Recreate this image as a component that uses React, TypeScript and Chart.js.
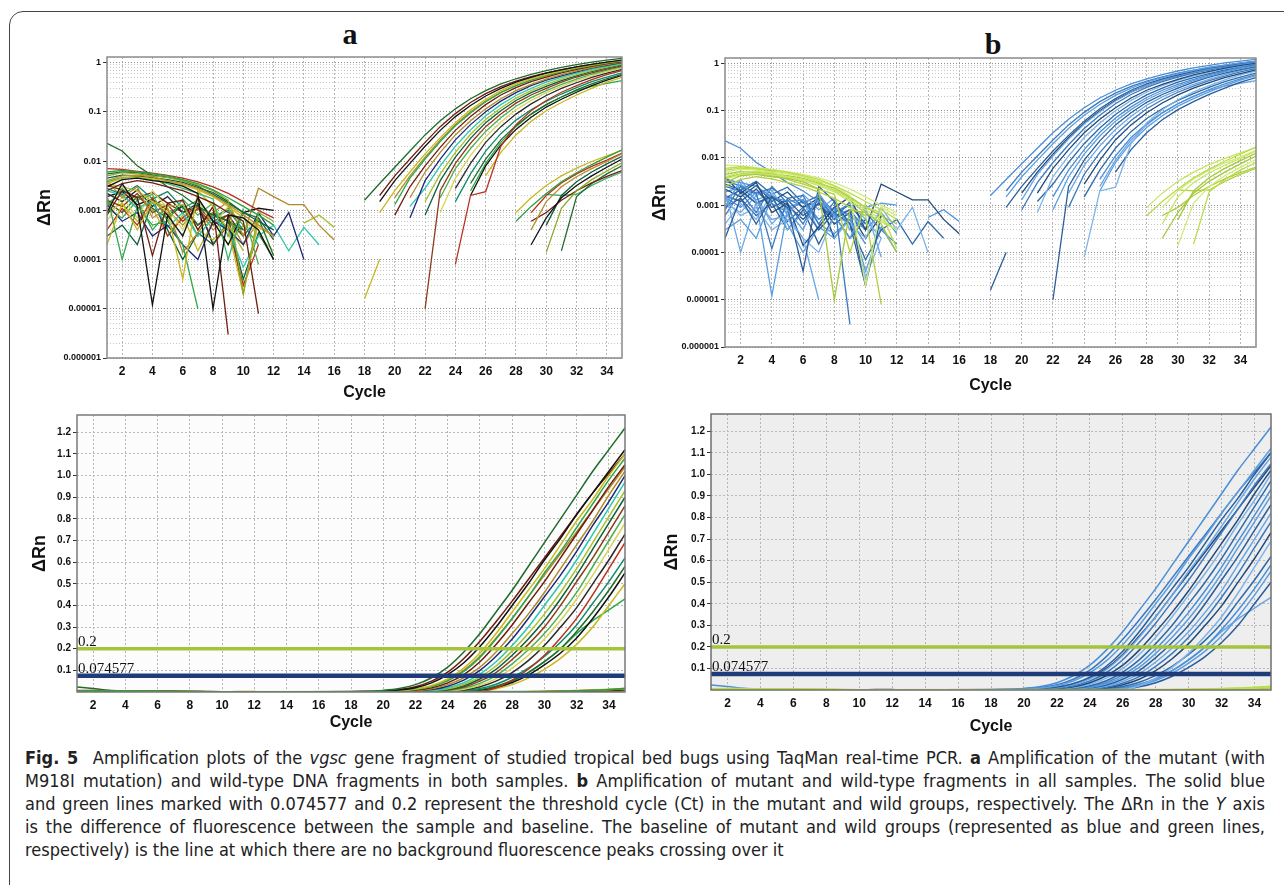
import React, { useEffect, useRef } from 'react';
import { Chart, registerables } from 'chart.js';

Chart.register(...registerables);

const _ = null;

// ---------- axes ----------
const CYCLES = [1, 2, 3, 4, 5, 6, 7, 8, 9, 10, 11, 12, 13, 14, 15, 16, 17, 18, 19, 20, 21, 22, 23, 24, 25, 26, 27, 28, 29, 30, 31, 32, 33, 34, 35];
const X_TICKS = [2, 4, 6, 8, 10, 12, 14, 16, 18, 20, 22, 24, 26, 28, 30, 32, 34];
const LOG_DECADES = [0.000001, 0.00001, 0.0001, 0.001, 0.01, 0.1, 1];
const LOG_TICK_LABELS = ['0.000001', '0.00001', '0.0001', '0.001', '0.01', '0.1', '1'];
const LOG_MINOR_STEPS = [1, 2, 3, 4, 5, 6, 7, 8, 9];
const LIN_TICKS = [0.1, 0.2, 0.3, 0.4, 0.5, 0.6, 0.7, 0.8, 0.9, 1.0, 1.1, 1.2];
const THRESHOLD_WILD = 0.2;
const THRESHOLD_MUTANT = 0.074577;

// ---------- mutant samples (ΔRn per cycle 1..35) ----------
const M01 = [0.023, 0.016, 0.008, 0.005, 0.003, 0.002, 0.0012, 0.0008, 0.0006, 0.0004, _, _, _, _, _, _, _, 0.0016, 0.0035, 0.0075, 0.016, 0.034, 0.066, 0.115, 0.185, 0.27, 0.37, 0.47, 0.58, 0.69, 0.80, 0.91, 1.02, 1.12, 1.22];
const M02 = [0.0009, 0.0035, 0.0012, 0.000012, 0.0008, 0.0003, 0.0018, 0.0006, 0.0002, 0.0009, 0.0011, 0.001, _, _, _, _, _, _, 0.0015, 0.004, 0.009, 0.02, 0.042, 0.08, 0.135, 0.21, 0.30, 0.40, 0.50, 0.61, 0.71, 0.82, 0.92, 1.02, 1.12];
const M03 = [0.0002, 0.0014, 0.0004, 0.0015, 0.0009, 0.00004, 0.0025, 0.0012, 0.0004, 0.00002, 0.0006, _, _, _, _, _, _, _, 0.0009, 0.0025, 0.006, 0.014, 0.03, 0.06, 0.11, 0.18, 0.27, 0.37, 0.47, 0.57, 0.68, 0.79, 0.89, 1.0, 1.10];
const M04 = [0.002, 0.0001, 0.0012, 0.0005, 0.0006, 0.0002, 0.00001, _, _, _, _, _, _, _, _, _, _, _, _, 0.0013, 0.0045, 0.011, 0.025, 0.052, 0.095, 0.16, 0.245, 0.34, 0.44, 0.55, 0.65, 0.76, 0.87, 0.98, 1.08];
const M05 = [0.0008, 0.0025, 0.0018, 0.00012, 0.0014, 0.0016, 0.0004, 0.0012, 0.000003, _, _, _, _, _, _, _, _, _, _, 0.0008, 0.003, 0.008, 0.019, 0.042, 0.08, 0.14, 0.22, 0.31, 0.41, 0.51, 0.62, 0.73, 0.84, 0.95, 1.05];
const M06 = [0.004, 0.0018, 0.003, 0.0007, 0.0011, 0.00014, 0.00035, 0.0009, 0.0015, 0.0003, 0.0028, 0.0019, 0.0013, 0.0013, 0.0005, 0.00025, _, _, _, _, 0.0018, 0.006, 0.015, 0.034, 0.066, 0.115, 0.185, 0.27, 0.36, 0.46, 0.57, 0.68, 0.79, 0.91, 1.02];
const M07 = [0.0013, 0.0006, 0.0009, 0.0003, 0.0005, 0.0002, 0.0001, 0.0006, 0.0004, 0.0002, 0.0009, 0.0003, 0.0009, 0.0001, _, _, _, _, _, _, 0.0007, 0.004, 0.011, 0.027, 0.055, 0.1, 0.165, 0.245, 0.34, 0.44, 0.54, 0.65, 0.77, 0.88, 1.0];
const M08 = [0.0025, 0.002, 0.0011, 0.0015, 0.00045, 0.0009, 0.0003, 0.0007, 0.0004, 0.00007, 0.0003, 0.0005, 0.00015, 0.00045, 0.0002, _, _, _, _, _, 0.0012, 0.0028, 0.008, 0.02, 0.043, 0.083, 0.14, 0.215, 0.30, 0.40, 0.50, 0.61, 0.73, 0.85, 0.97];
const M09 = [0.0035, 0.003, 0.0025, 0.0015, 0.0012, 0.0013, 0.0004, 0.00025, 0.0005, 0.00015, _, _, _, 0.00055, 0.0008, 0.00045, _, _, _, _, _, 0.0015, 0.0055, 0.015, 0.035, 0.07, 0.12, 0.19, 0.27, 0.36, 0.46, 0.57, 0.69, 0.81, 0.93];
const M10 = [0.0003, 0.0005, 0.0002, 0.0015, 0.0004, 0.0001, 0.00035, 0.0002, 0.0006, 0.00004, 0.00035, 0.0001, _, _, _, _, _, _, _, _, _, 0.0008, 0.004, 0.012, 0.029, 0.06, 0.105, 0.17, 0.245, 0.33, 0.43, 0.54, 0.66, 0.78, 0.90];
const M11 = [0.0016, 0.0012, 0.0022, 0.0009, 0.0013, 0.0006, 0.0011, 0.0005, 0.0008, 0.00002, _, _, _, _, _, _, _, _, _, _, _, 0.00001, 0.0025, 0.009, 0.023, 0.05, 0.09, 0.15, 0.22, 0.30, 0.40, 0.51, 0.62, 0.74, 0.86];
const M12 = [0.0012, 0.0028, 0.0016, 0.0021, 0.0006, 0.0017, 0.0008, 0.0014, 0.0003, 0.0009, 0.00008, _, _, _, _, _, _, _, _, _, _, _, 0.0018, 0.007, 0.018, 0.04, 0.076, 0.13, 0.195, 0.27, 0.36, 0.46, 0.58, 0.70, 0.82];
const M13 = [0.0006, 0.0019, 0.0007, 0.0025, 0.0011, 0.0004, 0.0016, 0.0005, 0.0012, 0.0007, 0.0003, 0.00015, _, _, _, _, _, _, _, _, _, _, 0.0009, 0.0045, 0.013, 0.031, 0.062, 0.11, 0.17, 0.245, 0.33, 0.43, 0.54, 0.66, 0.78];
const M14 = [0.0022, 0.0015, 0.0026, 0.0012, 0.0019, 0.0009, 0.0014, 0.0002, _, _, _, _, _, _, _, _, _, _, _, _, _, _, _, 0.0028, 0.009, 0.024, 0.05, 0.09, 0.145, 0.215, 0.30, 0.39, 0.50, 0.61, 0.73];
const M15 = [0.0004, 0.0011, 0.0005, 0.0018, 0.0003, 0.0007, 0.0013, 0.0002, 0.0005, 0.00003, 0.0002, _, _, _, _, _, _, _, _, _, _, _, _, 0.00008, 0.002, 0.0024, 0.02, 0.055, 0.105, 0.17, 0.25, 0.34, 0.45, 0.57, 0.69];
const M16 = [0.0028, 0.0021, 0.0032, 0.0017, 0.0024, 0.0011, 0.0016, 0.0007, 0.0010, 0.0004, _, _, _, _, _, _, _, _, _, _, _, _, _, 0.0015, 0.0055, 0.016, 0.036, 0.068, 0.11, 0.165, 0.23, 0.31, 0.41, 0.51, 0.62];
const M17 = [0.0015, 0.0009, 0.0019, 0.0011, 0.0007, 0.0013, 0.0005, 0.0009, 0.0006, 0.0003, 0.0007, 0.00025, _, _, _, _, _, _, _, _, _, _, _, _, 0.0035, 0.011, 0.027, 0.053, 0.09, 0.14, 0.20, 0.28, 0.37, 0.47, 0.58];
const M18 = [0.0019, 0.0024, 0.0013, 0.0017, 0.0008, 0.0012, 0.0005, 0.0009, 0.0004, _, _, _, _, _, _, _, _, _, _, _, _, _, _, _, 0.002, 0.008, 0.021, 0.044, 0.078, 0.125, 0.18, 0.25, 0.34, 0.44, 0.55];
const M19 = [0.0009, 0.0014, 0.0006, 0.0011, 0.0003, 0.0008, 0.00015, 0.0006, 0.0002, 0.0005, _, _, _, _, _, _, _, 0.000016, 0.0001, _, _, _, _, _, _, 0.005, 0.015, 0.034, 0.064, 0.105, 0.155, 0.22, 0.30, 0.40, 0.50];
const M20 = [0.0011, 0.0007, 0.0016, 0.0004, 0.0009, 0.0012, 0.0003, 0.0007, 0.0011, 0.0005, 0.0002, _, _, _, _, _, _, _, _, _, _, _, _, _, 0.0025, 0.009, 0.024, 0.05, 0.09, 0.14, 0.20, 0.27, 0.33, 0.38, 0.43];
const M21 = [0.0032, 0.0026, 0.0018, 0.0023, 0.0014, 0.0009, 0.0012, 0.0006, 0.0008, 0.0003, _, _, _, _, _, _, _, _, 0.002, 0.005, 0.011, 0.024, 0.05, 0.092, 0.155, 0.235, 0.325, 0.42, 0.52, 0.62, 0.72, 0.82, 0.92, 1.01, 1.10];
const M22 = [0.0014, 0.0021, 0.0011, 0.0016, 0.0010, 0.0005, 0.0011, 0.0004, 0.0007, 0.0002, 0.0006, _, _, _, _, _, _, 0.0006, _, 0.0018, 0.005, 0.012, 0.027, 0.055, 0.1, 0.165, 0.25, 0.34, 0.44, 0.54, 0.64, 0.74, 0.84, 0.94, 1.04];

// ---------- wild-type samples ----------
const W01 = [0.006, 0.0065, 0.006, 0.0055, 0.005, 0.0042, 0.0035, 0.0026, 0.0018, 0.0012, 0.0008, 0.0005, _, _, _, _, _, _, _, _, _, _, _, _, _, _, _, 0.0006, 0.0012, 0.0022, 0.0038, 0.0058, 0.0085, 0.012, 0.017];
const W02 = [0.004, 0.005, 0.0052, 0.0048, 0.004, 0.0035, 0.0028, 0.002, 0.0013, 0.0008, 0.0005, 0.0003, _, _, _, _, _, _, _, _, _, _, _, _, _, _, _, _, 0.0004, 0.0015, 0.003, 0.0048, 0.007, 0.0098, 0.014];
const W03 = [0.003, 0.0042, 0.0045, 0.004, 0.0037, 0.0031, 0.0022, 0.00001, 0.0008, 0.0007, 0.0004, 0.0001, _, _, _, _, _, _, _, _, _, _, _, _, _, _, _, _, 0.0002, 0.0007, 0.0018, 0.0032, 0.005, 0.0075, 0.011];
const W04 = [0.005, 0.0058, 0.0055, 0.005, 0.0046, 0.004, 0.0033, 0.0025, 0.0016, 0.00002, 0.0009, 0.0006, _, _, _, _, _, _, _, _, _, _, _, _, _, _, _, _, _, 0.00014, 0.0011, 0.0025, 0.0042, 0.0063, 0.0092];
const W05 = [0.0025, 0.0035, 0.004, 0.0036, 0.003, 0.0025, 0.0019, 0.0014, 0.0009, 0.0006, 0.000008, _, _, _, _, _, _, _, _, _, _, _, _, _, _, _, _, _, 0.0006, 0.0009, 0.0016, 0.0025, 0.0036, 0.0049, 0.0064];
const W06 = [0.0055, 0.006, 0.0058, 0.0052, 0.0047, 0.004, 0.0031, 0.0021, 0.0014, 0.0009, 0.0007, 0.00012, _, _, _, _, _, _, _, _, _, _, _, _, _, _, _, _, _, _, 0.00015, 0.0019, 0.0035, 0.0055, 0.008];
const W07 = [0.0035, 0.0045, 0.0047, 0.0044, 0.0039, 0.0033, 0.0026, 0.0019, 0.0012, 0.0007, 0.00045, 0.0003, _, _, _, _, _, _, _, _, _, _, _, _, _, _, _, 0.0009, 0.0018, 0.0032, 0.005, 0.0072, 0.0098, 0.0128, 0.0165];
const W08 = [0.0045, 0.0052, 0.005, 0.0046, 0.0042, 0.0037, 0.0029, 0.0023, 0.0015, 0.0009, 0.0006, 0.0004, _, _, _, _, _, _, _, _, _, _, _, _, _, _, _, _, _, 0.0005, 0.002, 0.0038, 0.006, 0.0088, 0.0125];
const W09 = [0.007, 0.0068, 0.0062, 0.0057, 0.0051, 0.0045, 0.0038, 0.003, 0.0022, 0.0015, 0.001, 0.0007, _, _, _, _, _, _, _, _, _, _, _, _, _, _, _, _, 0.0009, 0.002, 0.0036, 0.0055, 0.0078, 0.0105, 0.0145];
const W10 = [0.0038, 0.0046, 0.0048, 0.0042, 0.0035, 0.0028, 0.0022, 0.0017, 0.0001, 0.0011, _, _, _, _, _, _, _, _, _, _, _, _, _, _, _, _, _, _, _, 0.0021, 0.002, 0.0021, 0.0032, 0.0045, 0.006];

const MUTANT_SAMPLES = [M01, M02, M03, M04, M05, M06, M07, M08, M09, M10, M11, M12, M13, M14, M15, M16, M17, M18, M19, M20, M21, M22];
const WILD_SAMPLES = [W01, W02, W03, W04, W05, W06, W07, W08, W09, W10];

// ---------- colours ----------
const PALETTE_A = ['#1f6b2a', '#111111', '#c9b81e', '#2fa84a', '#6e1c10', '#b08a2a', '#1c2a78', '#2fc6ae', '#a8c030', '#0f5e3a', '#8c3a1a', '#4caf50', '#d6d35a', '#2a2a2a', '#b8321f', '#0e8a6a'];
const PALETTE_A_WILD = ['#2e9e3e', '#b8902c', '#111111', '#8aa82a', '#6e1c10', '#1f6b2a', '#c9b81e', '#0f5e3a', '#b8321f', '#3bb36a'];
const MUTANT_BLUES = ['#4a8fd8', '#5b9ee0', '#2b5d9a', '#6aa7e3', '#3a78bf', '#1f4a7a', '#7db3ea', '#2d6aa8'];
const WILD_GREENS = ['#b9dc4a', '#c8e463', '#a5c93a', '#d2ea78', '#b0d040'];

const FONT = '"Liberation Sans", Arial, sans-serif';

type Series = (number | null)[];

interface PanelCfg {
  x: number; y: number; w: number; h: number;
  plotL: number; plotT: number; plotR: number; plotB: number;
  log: boolean;
  mutantColors: string[];
  wildColors: string[];
  bg: string;
  frameColor: string;
  yTitlePad: number;
  xTitlePad: number;
}

const framePlugin = {
  id: 'frame',
  beforeDraw(chart: any, _args: any, opts: any) {
    const { ctx, chartArea: a } = chart;
    ctx.save();
    ctx.fillStyle = opts.bg || '#ffffff';
    ctx.fillRect(a.left, a.top, a.right - a.left, a.bottom - a.top);
    ctx.restore();
  },
  afterDatasetsDraw(chart: any, _args: any, opts: any) {
    const { ctx, chartArea: a } = chart;
    if (opts.labels) {
      ctx.save();
      ctx.font = '15px "Liberation Serif", "Times New Roman", serif';
      ctx.fillStyle = '#111';
      ctx.textBaseline = 'alphabetic';
      ctx.textAlign = 'left';
      for (const l of opts.labels) {
        const y = chart.scales.y.getPixelForValue(l.value);
        ctx.fillText(l.text, a.left + 1, y - 3);
      }
      ctx.restore();
    }
    ctx.save();
    ctx.strokeStyle = opts.frameColor || '#888';
    ctx.lineWidth = 1.5;
    ctx.strokeRect(a.left, a.top, a.right - a.left, a.bottom - a.top);
    ctx.restore();
  },
};

function curveDatasets(samples: Series[], colors: string[], linear: boolean) {
  return samples.map((s, i) => ({
    data: s,
    borderColor: colors[i % colors.length],
    borderWidth: linear ? 1.5 : 1.3,
    pointRadius: 0,
    spanGaps: linear,
    tension: 0,
    cubicInterpolationMode: linear ? 'monotone' : 'default',
  }));
}

function buildConfig(cfg: PanelCfg): any {
  const yAxisW = cfg.plotL - cfg.x;
  const xAxisH = cfg.y + cfg.h - cfg.plotB;
  const padTop = cfg.plotT - cfg.y;
  const padRight = cfg.x + cfg.w - cfg.plotR;
  const linear = !cfg.log;
  const first = CYCLES[0];
  const last = CYCLES[CYCLES.length - 1];

  const thresholds = linear
    ? [
        { data: [{ x: first, y: THRESHOLD_WILD }, { x: last, y: THRESHOLD_WILD }], borderColor: '#a3c43c', borderWidth: 3.5, pointRadius: 0 },
        { data: [{ x: first, y: THRESHOLD_MUTANT }, { x: last, y: THRESHOLD_MUTANT }], borderColor: '#1e3b7a', borderWidth: 4.5, pointRadius: 0 },
      ]
    : [];

  const datasets = [
    ...thresholds,
    ...curveDatasets(WILD_SAMPLES, cfg.wildColors, linear),
    ...curveDatasets(MUTANT_SAMPLES, cfg.mutantColors, linear),
  ];

  const logGrid = LOG_DECADES.slice(0, -1)
    .flatMap((d) => LOG_MINOR_STEPS.map((m) => d * m))
    .concat([LOG_DECADES[LOG_DECADES.length - 1]]);
  const isDecade = (v: number) => LOG_DECADES.includes(v);

  const yScale = cfg.log
    ? {
        type: 'logarithmic',
        min: LOG_DECADES[0],
        max: 1.3,
        afterBuildTicks: (s: any) => { s.ticks = logGrid.map((v) => ({ value: v })); },
        afterFit: (s: any) => { s.width = yAxisW; },
        ticks: {
          autoSkip: false,
          padding: 2,
          color: '#111',
          font: { family: FONT, size: 9, weight: 'bold' },
          callback: (v: number) => {
            const i = LOG_DECADES.indexOf(v);
            return i >= 0 ? LOG_TICK_LABELS[i] : '';
          },
        },
        grid: {
          color: (c: any) => (c.tick && isDecade(c.tick.value) ? '#8f8f8f' : '#c8c8c8'),
          tickLength: 4,
          tickColor: (c: any) => (c.tick && isDecade(c.tick.value) ? '#333' : 'rgba(0,0,0,0)'),
        },
        border: { display: false, dash: [1, 2] },
        title: { display: true, text: 'ΔRn', color: '#111', font: { family: FONT, size: 18, weight: 'bold' }, padding: { top: cfg.yTitlePad, bottom: 0 } },
      }
    : {
        type: 'linear',
        min: 0,
        max: 1.28,
        afterBuildTicks: (s: any) => { s.ticks = LIN_TICKS.map((v) => ({ value: v })); },
        afterFit: (s: any) => { s.width = yAxisW; },
        ticks: {
          autoSkip: false,
          padding: 2,
          color: '#111',
          font: { family: FONT, size: 10, weight: 'bold' },
          callback: (v: number) => Number(v).toFixed(1),
        },
        grid: { color: '#b9b9b9', tickLength: 4, tickColor: '#333' },
        border: { display: false, dash: [2, 2] },
        title: { display: true, text: 'ΔRn', color: '#111', font: { family: FONT, size: 18, weight: 'bold' }, padding: { top: cfg.yTitlePad, bottom: 0 } },
      };

  return {
    type: 'line',
    data: { labels: CYCLES, datasets },
    plugins: [framePlugin],
    options: {
      animation: false,
      responsive: false,
      maintainAspectRatio: false,
      events: [],
      layout: { padding: { top: padTop, right: padRight, left: 0, bottom: 0 } },
      plugins: {
        legend: { display: false },
        tooltip: { enabled: false },
        frame: {
          bg: cfg.bg,
          frameColor: cfg.frameColor,
          labels: linear
            ? [
                { value: THRESHOLD_WILD, text: String(THRESHOLD_WILD) },
                { value: THRESHOLD_MUTANT, text: String(THRESHOLD_MUTANT) },
              ]
            : null,
        },
      },
      scales: {
        x: {
          type: 'linear',
          min: first,
          max: last,
          afterBuildTicks: (s: any) => { s.ticks = X_TICKS.map((v) => ({ value: v })); },
          afterFit: (s: any) => { s.height = xAxisH; },
          ticks: { autoSkip: false, maxRotation: 0, padding: 6, color: '#111', font: { family: FONT, size: 12, weight: 'bold' } },
          grid: { color: '#b5b5b5', drawTicks: false },
          border: { display: false, dash: [2, 2] },
          title: { display: true, text: 'Cycle', color: '#111', font: { family: FONT, size: 16, weight: 'bold' }, padding: { top: 0, bottom: cfg.xTitlePad } },
        },
        y: yScale,
      },
    },
  };
}

function Plot({ cfg }: { cfg: PanelCfg }) {
  const ref = useRef<HTMLCanvasElement | null>(null);
  useEffect(() => {
    if (!ref.current) return;
    const chart = new Chart(ref.current, buildConfig(cfg));
    return () => chart.destroy();
  }, []);
  return (
    <canvas
      ref={ref}
      width={cfg.w}
      height={cfg.h}
      style={{ position: 'absolute', left: cfg.x, top: cfg.y, width: cfg.w, height: cfg.h }}
    />
  );
}

const PANEL_A_LOG: PanelCfg = {
  x: 12, y: 47, w: 628, h: 358, plotL: 107, plotT: 57, plotR: 622, plotB: 358,
  log: true, mutantColors: PALETTE_A, wildColors: PALETTE_A_WILD, bg: '#ffffff', frameColor: '#8a8a8a',
  yTitlePad: 22, xTitlePad: 3,
};
const PANEL_B_LOG: PanelCfg = {
  x: 645, y: 47, w: 639, h: 353, plotL: 725, plotT: 58, plotR: 1256, plotB: 347,
  log: true, mutantColors: MUTANT_BLUES, wildColors: WILD_GREENS, bg: '#ffffff', frameColor: '#8a8a8a',
  yTitlePad: 4, xTitlePad: 5,
};
const PANEL_A_LIN: PanelCfg = {
  x: 12, y: 405, w: 628, h: 330, plotL: 77, plotT: 415, plotR: 625, plotB: 692,
  log: false, mutantColors: PALETTE_A, wildColors: PALETTE_A_WILD, bg: '#fcfcfc', frameColor: '#7a7a7a',
  yTitlePad: 17, xTitlePad: 3,
};
const PANEL_B_LIN: PanelCfg = {
  x: 645, y: 405, w: 639, h: 335, plotL: 711, plotT: 414, plotR: 1271, plotB: 690,
  log: false, mutantColors: MUTANT_BLUES, wildColors: WILD_GREENS, bg: '#eeeeee', frameColor: '#6f6f6f',
  yTitlePad: 16, xTitlePad: 4,
};

const panelTitle = (text: string, cx: number, top: number) => (
  <div
    style={{
      position: 'absolute', left: cx - 30, top, width: 60, textAlign: 'center',
      font: 'bold 30px "Liberation Serif", "Times New Roman", serif', lineHeight: '30px', color: '#111',
    }}
  >
    {text}
  </div>
);

const lineJ: React.CSSProperties = { textAlign: 'justify', textAlignLast: 'justify' as any, height: 23, overflow: 'visible' };

export default function App() {
  return (
    <div style={{ position: 'absolute', left: 0, top: 0, width: 1284, height: 885, overflow: 'hidden', background: '#fff' }}>
      <div
        style={{
          position: 'absolute', left: 9, top: 11, width: 1320, height: 920,
          border: '1px solid #444', borderRadius: 14, boxSizing: 'border-box',
        }}
      />
      {panelTitle('a', 350, 19)}
      {panelTitle('b', 993, 29)}
      <Plot cfg={PANEL_A_LOG} />
      <Plot cfg={PANEL_B_LOG} />
      <Plot cfg={PANEL_A_LIN} />
      <Plot cfg={PANEL_B_LIN} />
      <div
        style={{
          position: 'absolute', left: 25, top: 746, width: 1240,
          fontFamily: '"Liberation Sans Narrow", "Arial Narrow", "DejaVu Sans Condensed", sans-serif', fontSize: 18, lineHeight: '23px', color: '#222',
        }}
      >
        <div style={lineJ}>
          <b>Fig. 5</b>&nbsp; Amplification plots of the <i>vgsc</i> gene fragment of studied tropical bed bugs using TaqMan real-time PCR. <b>a</b> Amplification of the mutant (with
        </div>
        <div style={lineJ}>
          M918I mutation) and wild-type DNA fragments in both samples. <b>b</b> Amplification of mutant and wild-type fragments in all samples. The solid blue
        </div>
        <div style={lineJ}>
          and green lines marked with 0.074577 and 0.2 represent the threshold cycle (Ct) in the mutant and wild groups, respectively. The ΔRn in the <i>Y</i> axis
        </div>
        <div style={lineJ}>
          is the difference of fluorescence between the sample and baseline. The baseline of mutant and wild groups (represented as blue and green lines,
        </div>
        <div style={{ height: 23 }}>
          respectively) is the line at which there are no background fluorescence peaks crossing over it
        </div>
      </div>
    </div>
  );
}
